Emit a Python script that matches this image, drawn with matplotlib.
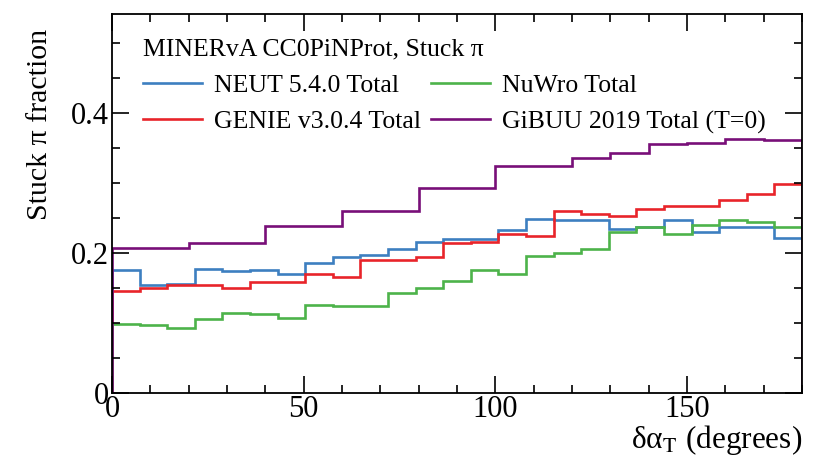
import numpy as np
import matplotlib
matplotlib.use('Agg')
import matplotlib.pyplot as plt
from matplotlib.ticker import MultipleLocator

plt.rcParams['font.family'] = ['Liberation Serif', 'DejaVu Serif']
plt.rcParams['mathtext.fontset'] = 'stix'

# 25 bins of 7.2 degrees for NEUT, GENIE, NuWro
edges = np.arange(0, 180.01, 7.2)
neut = [0.175, 0.154, 0.155, 0.177, 0.174, 0.175, 0.169, 0.185, 0.194, 0.196,
        0.205, 0.215, 0.219, 0.219, 0.232, 0.248, 0.246, 0.246, 0.233, 0.236,
        0.247, 0.230, 0.237, 0.236, 0.221]
genie = [0.145, 0.150, 0.153, 0.153, 0.149, 0.158, 0.158, 0.169, 0.165, 0.189,
         0.189, 0.193, 0.213, 0.215, 0.227, 0.224, 0.260, 0.255, 0.253, 0.263,
         0.267, 0.266, 0.275, 0.284, 0.298]
nuwro = [0.098, 0.096, 0.092, 0.105, 0.114, 0.112, 0.107, 0.125, 0.123, 0.123,
         0.142, 0.150, 0.160, 0.175, 0.169, 0.195, 0.199, 0.205, 0.229, 0.236,
         0.226, 0.240, 0.247, 0.244, 0.237]
# GiBUU uses its own binning
gibuu_edges = [0, 20, 40, 60, 80, 100, 120, 130, 140, 150, 160, 170, 180]
gibuu = [0.206, 0.214, 0.238, 0.260, 0.292, 0.324, 0.335, 0.342, 0.355, 0.356,
         0.363, 0.361]

fig = plt.figure(figsize=(8.15, 4.58), dpi=100)
ax = fig.add_axes([0.1374, 0.143, 0.8466, 0.8264])

lw = 1.9
ax.stairs(neut, edges, color='#3d7fc0', lw=lw, label='NEUT 5.4.0 Total')
ax.stairs(genie, edges, color='#e8242a', lw=lw, label='GENIE v3.0.4 Total')
ax.stairs(nuwro, edges, color='#4db34a', lw=lw, label='NuWro Total')
ax.stairs(gibuu, gibuu_edges, color='#780f78', lw=lw, label='GiBUU 2019 Total (T=0)')

ax.set_xlim(0, 180)
ax.set_ylim(0, 0.541)
ax.xaxis.set_major_locator(MultipleLocator(50))
ax.xaxis.set_minor_locator(MultipleLocator(10))
ax.yaxis.set_major_locator(MultipleLocator(0.2))
ax.yaxis.set_minor_locator(MultipleLocator(0.05))
ax.yaxis.set_major_formatter(plt.FuncFormatter(lambda v, p: '0' if v == 0 else '%g' % v))
ax.tick_params(which='both', direction='in', top=True, right=True, labelsize=22, width=1.2)
ax.tick_params(which='major', length=12, pad=2)
ax.tick_params(which='minor', length=6)
for s in ax.spines.values():
    s.set_linewidth(1.3)

ax.set_ylabel('Stuck π fraction', fontsize=21.5, loc='top')
ax.yaxis.set_label_coords(-0.086, 0.96)
ax.set_xlabel(r'δα$_\mathrm{T}$ (degrees)', fontsize=22.5, loc='right', labelpad=-1)

leg = ax.legend(ncol=2, loc='upper left', frameon=False, fontsize=18.5,
                title='MINERvA CC0PiNProt, Stuck π', title_fontsize=18.5,
                alignment='left', handlelength=2.3, handletextpad=0.45,
                columnspacing=0.4, borderaxespad=0, borderpad=0,
                bbox_to_anchor=(0.045, 0.935), labelspacing=0.52)

fig.savefig('out.png', dpi=100)
